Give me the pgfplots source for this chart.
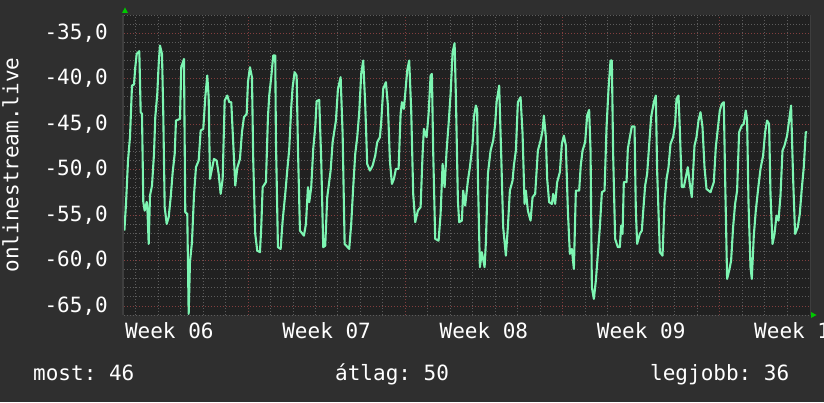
\documentclass[border=0pt]{standalone}
\usepackage{fontspec}
\setmonofont{DejaVu Sans Mono}
\usepackage{pgfplots}
\pgfplotsset{compat=1.18}
\usetikzlibrary{backgrounds}
\definecolor{outerbg}{RGB}{47,47,47}
\definecolor{plotbg}{RGB}{33,33,33}
\definecolor{linec}{RGB}{125,245,178}
\definecolor{minorg}{RGB}{92,92,92}
\definecolor{majorg}{RGB}{130,62,62}
\definecolor{arrowg}{RGB}{0,200,0}
\definecolor{edgeg}{RGB}{62,62,62}
\begin{document}
\begin{tikzpicture}[x=1pt,y=1pt]
\begin{axis}[
  name=ax, scale only axis,
  width=685.7pt, height=300pt,
  xmin=1.483, xmax=32, ymin=-66, ymax=-33,
  axis background/.style={fill=plotbg},
  axis line style={draw=none},
  tick style={draw=none},
  major tick length=0pt, minor tick length=0pt,
  xtick={3.5,10.5,17.5,24.5,31.5},
  xticklabels={Week 06,Week 07,Week 08,Week 09,Week 10},
  minor xtick={2,...,31},
  extra x ticks={7,14,21,28},
  extra x tick labels={},
  extra x tick style={grid=major},
  xmajorgrids=false, xminorgrids=true,
  ytick={-65,-60,-55,-50,-45,-40,-35},
  yticklabels={{-65,0},{-60,0},{-55,0},{-50,0},{-45,0},{-40,0},{-35,0}},
  minor ytick={-66,...,-33},
  ymajorgrids=true, yminorgrids=true,
  minor grid style={minorg, line width=0.8pt, dash pattern=on 1pt off 2pt},
  major grid style={majorg, line width=0.8pt, dash pattern=on 1pt off 2pt},
  ticklabel style={font=\fontsize{21}{25}\selectfont\ttfamily, text=white, inner sep=0pt},
  yticklabel style={anchor=east, xshift=-16pt},
  xticklabel style={anchor=north, yshift=-7pt},
  clip=true,
]
\addplot[linec, line width=2.1pt, line join=round] table[row sep=\\] {
x y\\
1.500 -56.72\\ 1.572 -53.78\\ 1.661 -49.02\\ 1.750 -46.41\\ 1.839 -40.76\\ 1.928 -40.65\\ 1.986 -38.74\\ 2.048 -37.28\\
2.164 -36.98\\ 2.226 -43.69\\ 2.284 -43.88\\ 2.342 -53.56\\ 2.404 -54.52\\ 2.493 -53.56\\ 2.528 -54.52\\ 2.582 -58.18\\
2.640 -52.87\\ 2.729 -51.77\\ 2.818 -48.28\\ 2.875 -44.24\\ 2.964 -41.68\\ 3.027 -38.38\\ 3.084 -36.36\\ 3.174 -37.28\\
3.231 -43.88\\ 3.294 -54.14\\ 3.383 -55.98\\ 3.472 -55.24\\ 3.561 -53.04\\ 3.650 -50.29\\ 3.739 -48.28\\ 3.796 -44.61\\
3.974 -44.43\\ 4.032 -38.74\\ 4.152 -37.83\\ 4.210 -54.69\\ 4.299 -54.88\\ 4.361 -65.88\\ 4.419 -60.19\\ 4.508 -57.99\\
4.597 -52.87\\ 4.686 -49.74\\ 4.806 -49.02\\ 4.895 -45.71\\ 5.011 -45.53\\ 5.100 -42.04\\ 5.189 -39.66\\ 5.251 -42.04\\
5.309 -51.03\\ 5.398 -49.93\\ 5.487 -48.83\\ 5.607 -49.02\\ 5.696 -50.48\\ 5.785 -52.68\\ 5.874 -51.03\\ 5.963 -42.41\\
6.079 -41.86\\ 6.168 -42.59\\ 6.257 -42.59\\ 6.346 -47.18\\ 6.435 -51.77\\ 6.524 -49.82\\ 6.644 -48.83\\ 6.733 -45.89\\
6.822 -44.24\\ 6.942 -43.88\\ 7.000 -40.39\\ 7.089 -38.74\\ 7.178 -39.84\\ 7.235 -49.02\\ 7.324 -57.08\\ 7.413 -58.92\\
7.534 -59.09\\ 7.591 -56.34\\ 7.654 -51.94\\ 7.800 -51.39\\ 7.889 -44.24\\ 7.947 -41.86\\ 8.036 -39.84\\ 8.125 -37.46\\
8.214 -37.46\\ 8.245 -46.82\\ 8.334 -58.54\\ 8.454 -58.73\\ 8.543 -55.62\\ 8.659 -52.68\\ 8.748 -50.12\\ 8.837 -47.73\\
8.926 -43.14\\ 8.988 -40.94\\ 9.077 -39.29\\ 9.166 -39.66\\ 9.224 -47.54\\ 9.313 -56.72\\ 9.491 -57.27\\ 9.580 -55.98\\
9.669 -51.94\\ 9.727 -53.59\\ 9.816 -51.94\\ 9.905 -47.73\\ 9.994 -45.34\\ 10.056 -42.48\\ 10.172 -42.34\\ 10.261 -49.02\\
10.350 -58.54\\ 10.439 -58.37\\ 10.528 -53.04\\ 10.679 -50.12\\ 10.768 -46.99\\ 10.915 -44.61\\ 11.004 -41.13\\ 11.124 -39.84\\
11.213 -46.08\\ 11.302 -58.18\\ 11.506 -58.73\\ 11.595 -55.98\\ 11.684 -51.94\\ 11.774 -48.28\\ 11.863 -46.44\\ 11.952 -43.69\\
12.040 -39.48\\ 12.129 -38.01\\ 12.218 -42.78\\ 12.307 -49.38\\ 12.428 -50.12\\ 12.548 -49.57\\ 12.663 -48.47\\ 12.752 -46.99\\
12.872 -46.44\\ 12.930 -44.79\\ 13.019 -41.13\\ 13.139 -40.39\\ 13.228 -42.96\\ 13.317 -49.02\\ 13.406 -51.58\\ 13.495 -51.03\\
13.584 -49.93\\ 13.704 -49.93\\ 13.793 -43.88\\ 13.851 -42.59\\ 13.940 -43.33\\ 13.998 -41.68\\ 14.087 -39.11\\ 14.176 -38.01\\
14.265 -43.51\\ 14.354 -52.68\\ 14.443 -55.79\\ 14.563 -54.52\\ 14.683 -54.14\\ 14.772 -48.28\\ 14.830 -45.53\\ 14.950 -46.44\\
15.039 -43.88\\ 15.128 -39.66\\ 15.186 -39.48\\ 15.244 -48.09\\ 15.333 -57.63\\ 15.484 -57.82\\ 15.573 -54.88\\ 15.662 -49.38\\
15.751 -51.94\\ 15.840 -47.92\\ 15.929 -44.98\\ 16.018 -41.68\\ 16.107 -37.09\\ 16.196 -36.10\\ 16.254 -42.04\\ 16.343 -53.42\\
16.400 -55.79\\ 16.520 -55.62\\ 16.578 -52.32\\ 16.667 -53.97\\ 16.788 -51.22\\ 16.877 -49.74\\ 16.997 -47.18\\ 17.054 -44.24\\
17.143 -42.96\\ 17.201 -43.44\\ 17.232 -50.67\\ 17.321 -60.74\\ 17.410 -59.09\\ 17.531 -60.74\\ 17.589 -57.99\\ 17.678 -50.48\\
17.797 -47.92\\ 17.913 -46.82\\ 18.002 -44.98\\ 18.064 -42.59\\ 18.180 -40.76\\ 18.269 -48.28\\ 18.358 -56.34\\ 18.478 -59.47\\
18.567 -56.34\\ 18.656 -52.32\\ 18.776 -51.22\\ 18.834 -49.57\\ 18.923 -47.92\\ 19.012 -42.59\\ 19.132 -42.04\\ 19.221 -46.08\\
19.310 -53.78\\ 19.368 -52.32\\ 19.457 -54.52\\ 19.577 -55.62\\ 19.666 -53.04\\ 19.782 -52.68\\ 19.902 -47.92\\ 20.022 -46.82\\
20.111 -45.71\\ 20.169 -44.06\\ 20.258 -46.44\\ 20.316 -51.03\\ 20.404 -53.59\\ 20.525 -53.78\\ 20.583 -52.68\\ 20.672 -53.78\\
20.761 -51.39\\ 20.881 -50.29\\ 20.970 -47.18\\ 21.059 -46.27\\ 21.148 -47.37\\ 21.237 -54.52\\ 21.326 -59.28\\ 21.415 -58.73\\
21.504 -60.93\\ 21.593 -52.32\\ 21.740 -52.32\\ 21.810 -49.57\\ 21.891 -47.92\\ 22.006 -46.99\\ 22.095 -44.06\\ 22.184 -43.44\\
22.247 -47.92\\ 22.305 -62.94\\ 22.394 -64.23\\ 22.483 -62.22\\ 22.572 -59.28\\ 22.661 -56.34\\ 22.750 -52.49\\ 22.869 -52.32\\
22.958 -45.34\\ 23.047 -41.13\\ 23.136 -38.01\\ 23.194 -38.01\\ 23.252 -48.28\\ 23.341 -57.63\\ 23.461 -58.54\\ 23.550 -58.54\\
23.608 -56.17\\ 23.670 -57.08\\ 23.728 -51.39\\ 23.848 -51.39\\ 23.906 -47.73\\ 23.995 -46.44\\ 24.084 -45.27\\ 24.204 -45.27\\
24.262 -54.52\\ 24.320 -58.18\\ 24.440 -57.08\\ 24.529 -56.72\\ 24.587 -54.69\\ 24.676 -51.77\\ 24.765 -50.48\\ 24.853 -47.37\\
24.942 -44.24\\ 25.063 -42.59\\ 25.152 -41.86\\ 25.210 -50.12\\ 25.330 -59.09\\ 25.450 -59.47\\ 25.539 -53.59\\ 25.628 -51.03\\
25.716 -49.74\\ 25.805 -47.18\\ 25.921 -46.44\\ 26.010 -44.98\\ 26.072 -42.23\\ 26.161 -41.86\\ 26.219 -45.53\\ 26.308 -51.94\\
26.397 -51.94\\ 26.486 -50.84\\ 26.575 -49.74\\ 26.664 -51.58\\ 26.753 -53.04\\ 26.873 -47.37\\ 26.962 -46.44\\ 27.051 -44.61\\
27.140 -43.69\\ 27.229 -45.34\\ 27.318 -49.74\\ 27.407 -52.13\\ 27.585 -52.49\\ 27.732 -51.39\\ 27.821 -47.54\\ 27.910 -45.53\\
27.999 -43.51\\ 28.088 -42.78\\ 28.177 -42.59\\ 28.235 -50.84\\ 28.324 -62.03\\ 28.413 -61.12\\ 28.502 -60.02\\ 28.591 -56.34\\
28.680 -53.78\\ 28.769 -52.32\\ 28.858 -45.89\\ 28.978 -45.16\\ 29.067 -44.98\\ 29.156 -43.51\\ 29.214 -44.54\\ 29.276 -53.59\\
29.365 -60.74\\ 29.423 -62.03\\ 29.512 -57.27\\ 29.601 -54.52\\ 29.721 -51.77\\ 29.810 -49.93\\ 29.926 -48.47\\ 30.015 -45.89\\
30.104 -44.61\\ 30.193 -44.98\\ 30.255 -52.68\\ 30.344 -58.18\\ 30.433 -57.08\\ 30.522 -55.07\\ 30.611 -55.62\\ 30.700 -52.87\\
30.789 -47.92\\ 30.878 -47.37\\ 30.993 -46.27\\ 31.082 -44.61\\ 31.171 -42.96\\ 31.260 -50.84\\ 31.349 -57.08\\ 31.469 -56.34\\
31.558 -54.88\\ 31.647 -52.13\\ 31.736 -49.74\\ 31.825 -45.89\\ 31.883 -45.89\\
};
\end{axis}
\begin{scope}[shift={(ax.south west)}, shift={(-124,-87)}]
\begin{scope}[on background layer]
\fill[outerbg] (0,0) rectangle (824,402);
\end{scope}
\fill[edgeg] (122,87) rectangle (124,387);
\fill[edgeg] (809.7,87) rectangle (811,387);
\fill[arrowg] (122,389) -- (128,389) -- (125,394.5) -- cycle;
\fill[arrowg] (811,84) -- (811,90) -- (816.5,87) -- cycle;
\node[rotate=90, anchor=base, font=\fontsize{21}{25}\selectfont\ttfamily, text=white] at (18.5,237) {onlinestream.live};
\node[anchor=base west, inner sep=0pt, font=\fontsize{21}{25}\selectfont\ttfamily, text=white] at (33,22) {most: 46};
\node[anchor=base west, inner sep=0pt, font=\fontsize{21}{25}\selectfont\ttfamily, text=white] at (335,22) {átlag: 50};
\node[anchor=base west, inner sep=0pt, font=\fontsize{21}{25}\selectfont\ttfamily, text=white] at (650,22) {legjobb: 36};
\pgfresetboundingbox
\useasboundingbox (0,0) rectangle (824,402);
\end{scope}
\end{tikzpicture}
\end{document}
